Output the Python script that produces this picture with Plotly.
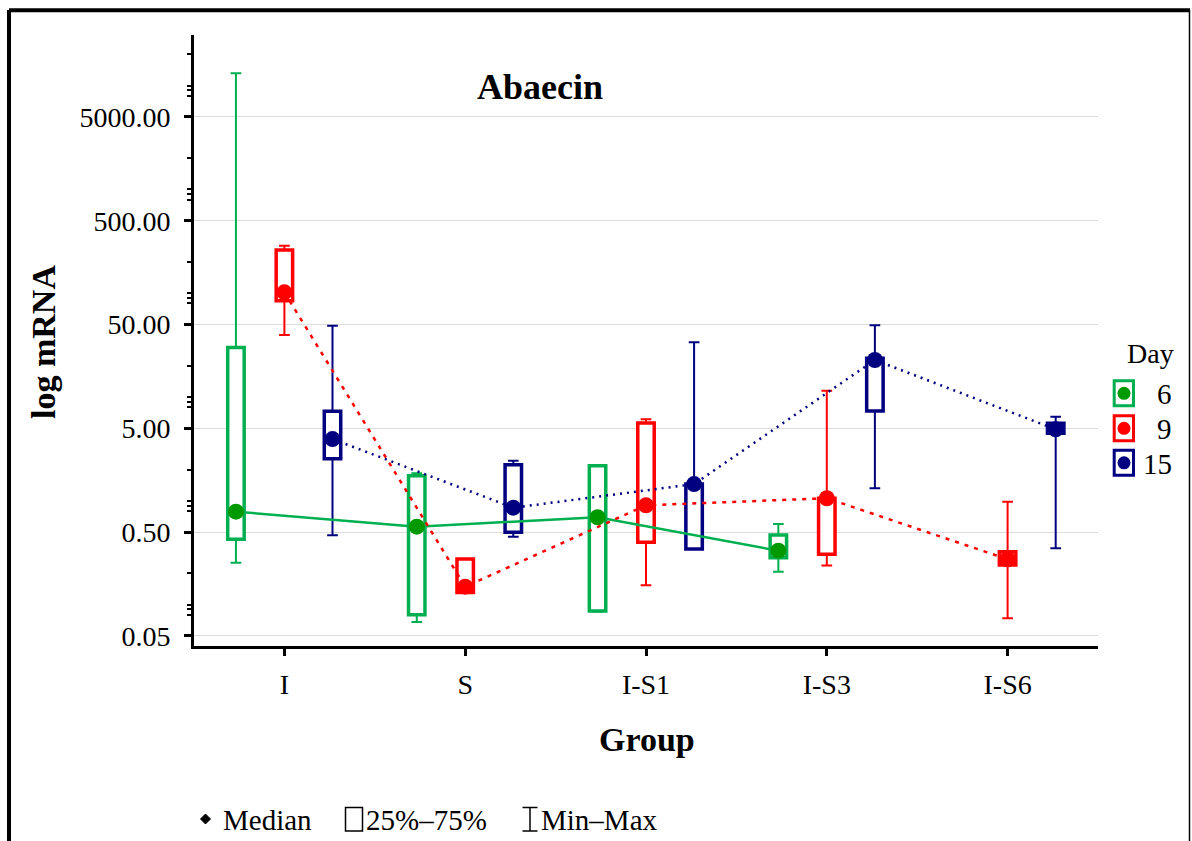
import plotly.graph_objects as go

# ---------------- data ----------------
groups = ["I", "S", "I-S1", "I-S3", "I-S6"]
days = ["6", "9", "15"]

# Day 6 (no I-S6 group)
min_6 = [0.254, 0.068, 0.086, 0.208]
q1_6 = [0.426, 0.080, 0.087, 0.283]
med_6 = [0.786, 0.564, 0.695, 0.331]
q3_6 = [30.0, 1.75, 2.18, 0.469]
max_6 = [13150, 1.84, 2.22, 0.598]

# Day 9
min_9 = [39.6, 0.131, 0.154, 0.239, 0.074]
q1_9 = [84.8, 0.131, 0.40, 0.306, 0.241]
med_9 = [102, 0.149, 0.906, 1.06, 0.274]
q3_9 = [261, 0.275, 5.62, 1.06, 0.324]
max_9 = [287, 0.275, 6.11, 11.5, 0.981]

# Day 15
min_15 = [0.466, 0.452, 0.344, 1.32, 0.349]
q1_15 = [2.55, 0.498, 0.344, 7.34, 4.47]
med_15 = [3.94, 0.859, 1.45, 22.75, 4.89]
q3_15 = [7.29, 2.23, 1.45, 23.6, 5.59]
max_15 = [48.7, 2.44, 33.7, 49.1, 6.47]

y_tickvals = [0.05, 0.5, 5, 50, 500, 5000]
y_ticktext = ["0.05", "0.50", "5.00", "50.00", "500.00", "5000.00"]

# ---------------- style ----------------
FONT = "Liberation Serif, Times New Roman, serif"
W_PX, H_PX = 1192, 841
L, R, T, B = 194, 1098, 35, 646
PW, PH = R - L, B - T

def px(x):
    return (x - L) / PW

def py(y):
    return (B - y) / PH

series = [
    dict(day="6", mn=min_6, q1=q1_6, med=med_6, q3=q3_6, mx=max_6, off=-0.268,
         box="#00B050", dot="#009900", dash="solid"),
    dict(day="9", mn=min_9, q1=q1_9, med=med_9, q3=q3_9, mx=max_9, off=0.0,
         box="#FF0000", dot="#FF0000", dash="4px,6px"),
    dict(day="15", mn=min_15, q1=q1_15, med=med_15, q3=q3_15, mx=max_15, off=0.266,
         box="#000080", dot="#000080", dash="2px,5px"),
]

fig = go.Figure()

BOXW = 0.091
for s in series:
    n = len(s["med"])
    xs = [i + s["off"] for i in range(n)]
    # whiskers (thin) - full statistics
    fig.add_trace(go.Box(
        x=xs, q1=s["q1"], median=s["med"], q3=s["q3"],
        lowerfence=s["mn"], upperfence=s["mx"],
        width=BOXW, whiskerwidth=0.65, boxpoints=False,
        line=dict(color=s["box"], width=2), fillcolor="white",
        showlegend=False, hoverinfo="skip"))
    # box (thick outline)
    fig.add_trace(go.Box(
        x=xs, q1=s["q1"], median=s["med"], q3=s["q3"],
        lowerfence=s["q1"], upperfence=s["q3"],
        width=BOXW, whiskerwidth=0, boxpoints=False,
        line=dict(color=s["box"], width=3.5), fillcolor="white",
        showlegend=False, hoverinfo="skip"))

for s in series:
    n = len(s["med"])
    xs = [i + s["off"] for i in range(n)]
    fig.add_trace(go.Scatter(
        x=xs, y=s["med"], mode="lines+markers",
        line=dict(color=s["box"], width=2.5, dash=s["dash"]),
        marker=dict(size=16, color=s["dot"]),
        showlegend=False, name="Day " + s["day"]))

# minor ticks on log axis
minor_vals = []
for e in range(-2, 5):
    for m in (0.8, 0.9, 1.0, 2.0):
        v = m * 10 ** e
        if 0.04 < v < 30000:
            minor_vals.append(v)

shapes = []
annotations = []

# outer frame
shapes.append(dict(type="line", xref="paper", yref="paper", x0=px(9), x1=px(1190), y0=py(10.3), y1=py(10.3),
                   line=dict(color="black", width=4)))
shapes.append(dict(type="line", xref="paper", yref="paper", x0=px(9), x1=px(9), y0=py(10), y1=py(850),
                   line=dict(color="black", width=4)))
shapes.append(dict(type="line", xref="paper", yref="paper", x0=px(1189.5), x1=px(1189.5), y0=py(10), y1=py(850),
                   line=dict(color="black", width=1.5)))

# title and axis titles
annotations.append(dict(text="<b>Abaecin</b>", xref="paper", yref="paper", x=px(540), y=py(87),
                        xanchor="center", yanchor="middle", showarrow=False,
                        font=dict(family=FONT, size=36, color="black")))
annotations.append(dict(text="<b>log mRNA</b>", xref="paper", yref="paper", x=px(43), y=py(342),
                        xanchor="center", yanchor="middle", textangle=-90, showarrow=False,
                        font=dict(family=FONT, size=34, color="black")))
annotations.append(dict(text="<b>Group</b>", xref="paper", yref="paper", x=px(647), y=py(740),
                        xanchor="center", yanchor="middle", showarrow=False,
                        font=dict(family=FONT, size=34, color="black")))

# custom legend (Day)
annotations.append(dict(text="Day", xref="paper", yref="paper", x=px(1176), y=py(353),
                        xanchor="right", yanchor="middle", showarrow=False,
                        font=dict(family=FONT, size=28, color="black")))
leg_rows = [393.3, 428.3, 462.8]
for s, yc in zip(series, leg_rows):
    shapes.append(dict(type="rect", xref="paper", yref="paper",
                       x0=px(1114.2), x1=px(1133.5), y0=py(yc - 12.5), y1=py(yc + 12.5),
                       line=dict(color=s["box"], width=3), fillcolor="white"))
    shapes.append(dict(type="circle", xref="paper", yref="paper",
                       x0=px(1124 - 6.5), x1=px(1124 + 6.5), y0=py(yc - 6.5), y1=py(yc + 6.5),
                       line=dict(color=s["dot"], width=0), fillcolor=s["dot"]))
    annotations.append(dict(text=s["day"], xref="paper", yref="paper", x=px(1174), y=py(yc + 1),
                            xanchor="right", yanchor="middle", showarrow=False,
                            font=dict(family=FONT, size=29, color="black")))

# bottom key
ky = 819
shapes.append(dict(type="path", xref="paper", yref="paper",
                   path="M {} {} L {} {} L {} {} L {} {} Z".format(
                       px(200.5), py(ky), px(205.5), py(ky - 5), px(210.5), py(ky), px(205.5), py(ky + 5)),
                   line=dict(color="black", width=1), fillcolor="black"))
annotations.append(dict(text="Median", xref="paper", yref="paper", x=px(221), y=py(ky + 1),
                        xanchor="left", yanchor="middle", showarrow=False,
                        font=dict(family=FONT, size=29, color="black")))
shapes.append(dict(type="rect", xref="paper", yref="paper",
                   x0=px(345.5), x1=px(362.5), y0=py(807.5), y1=py(831),
                   line=dict(color="black", width=1.5), fillcolor="rgba(0,0,0,0)"))
annotations.append(dict(text="25%–75%", xref="paper", yref="paper", x=px(364), y=py(ky + 1),
                        xanchor="left", yanchor="middle", showarrow=False,
                        font=dict(family=FONT, size=29, color="black")))
for (x0, x1, y0, y1) in [(530, 530, 807.5, 831), (522.5, 537.5, 807.5, 807.5), (522.5, 537.5, 831, 831)]:
    shapes.append(dict(type="line", xref="paper", yref="paper",
                       x0=px(x0), x1=px(x1), y0=py(y0), y1=py(y1),
                       line=dict(color="black", width=1.5)))
annotations.append(dict(text="Min–Max", xref="paper", yref="paper", x=px(539), y=py(ky + 1),
                        xanchor="left", yanchor="middle", showarrow=False,
                        font=dict(family=FONT, size=29, color="black")))

fig.update_layout(
    width=W_PX, height=H_PX,
    margin=dict(l=L, r=W_PX - R, t=T, b=H_PX - B, pad=0),
    paper_bgcolor="white", plot_bgcolor="white",
    boxmode="overlay", showlegend=False,
    font=dict(family=FONT, size=28, color="black"),
    shapes=shapes, annotations=annotations,
    xaxis=dict(
        type="linear", range=[-0.5, 4.5],
        tickmode="array", tickvals=list(range(len(groups))), ticktext=groups,
        showgrid=False, zeroline=False,
        showline=True, linecolor="black", linewidth=3,
        ticks="outside", ticklen=7, tickwidth=2.5, tickcolor="black",
        ticklabelstandoff=4,
        tickfont=dict(family=FONT, size=28, color="black"),
    ),
    yaxis=dict(
        type="log", range=[-1.3983, 4.488],
        tickmode="array", tickvals=y_tickvals, ticktext=y_ticktext,
        showgrid=True, gridcolor="#dcdcdc", gridwidth=1.3,
        zeroline=False,
        showline=True, linecolor="black", linewidth=3,
        ticks="outside", ticklen=7, tickwidth=2.5, tickcolor="black",
        ticklabelstandoff=8,
        tickfont=dict(family=FONT, size=28, color="black"),
        minor=dict(tickmode="array", tickvals=minor_vals, ticks="outside",
                   ticklen=4, tickwidth=2, tickcolor="black", showgrid=False),
    ),
)

fig.write_html("out.html")
